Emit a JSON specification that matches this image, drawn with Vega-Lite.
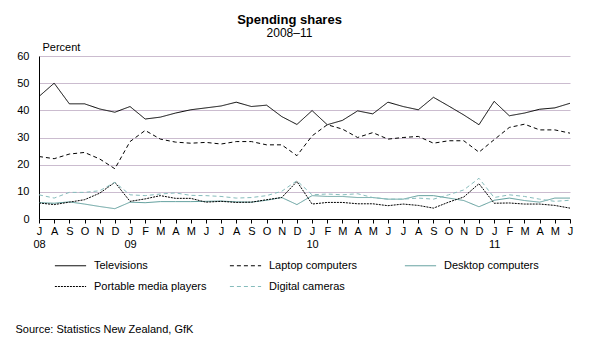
{
  "$schema": "https://vega.github.io/schema/vega-lite/v6.json",
  "width": 531,
  "height": 163,
  "autosize": {"type": "none"},
  "padding": {"left": 39, "top": 56, "right": 25, "bottom": 137},
  "background": "white",
  "title": {
    "text": "Spending shares",
    "subtitle": "2008–11",
    "anchor": "middle",
    "dx": -15,
    "fontSize": 13,
    "fontWeight": "bold",
    "font": "Liberation Sans",
    "subtitleFont": "Liberation Sans",
    "subtitleFontSize": 12,
    "subtitleColor": "black",
    "subtitlePadding": 1,
    "color": "black",
    "offset": 2
  },
  "data": {
    "values": [
      {"m": "2008-07", "Televisions": 45.1, "Laptop computers": 23.0, "Desktop computers": 6.0, "Portable media players": 5.9, "Digital cameras": 8.9},
      {"m": "2008-08", "Televisions": 50.0, "Laptop computers": 22.2, "Desktop computers": 5.8, "Portable media players": 5.3, "Digital cameras": 7.7},
      {"m": "2008-09", "Televisions": 42.4, "Laptop computers": 23.9, "Desktop computers": 6.3, "Portable media players": 6.2, "Digital cameras": 9.8},
      {"m": "2008-10", "Televisions": 42.4, "Laptop computers": 24.5, "Desktop computers": 5.5, "Portable media players": 7.1, "Digital cameras": 9.8},
      {"m": "2008-11", "Televisions": 40.5, "Laptop computers": 22.1, "Desktop computers": 4.6, "Portable media players": 9.5, "Digital cameras": 10.4},
      {"m": "2008-12", "Televisions": 39.3, "Laptop computers": 18.5, "Desktop computers": 3.8, "Portable media players": 13.5, "Digital cameras": 13.5},
      {"m": "2009-01", "Televisions": 41.4, "Laptop computers": 28.5, "Desktop computers": 6.2, "Portable media players": 6.5, "Digital cameras": 8.9},
      {"m": "2009-02", "Televisions": 36.8, "Laptop computers": 32.6, "Desktop computers": 6.0, "Portable media players": 7.4, "Digital cameras": 8.6},
      {"m": "2009-03", "Televisions": 37.5, "Laptop computers": 29.4, "Desktop computers": 6.4, "Portable media players": 8.6, "Digital cameras": 9.2},
      {"m": "2009-04", "Televisions": 39.0, "Laptop computers": 28.3, "Desktop computers": 6.4, "Portable media players": 7.6, "Digital cameras": 9.6},
      {"m": "2009-05", "Televisions": 40.2, "Laptop computers": 27.9, "Desktop computers": 6.4, "Portable media players": 7.6, "Digital cameras": 8.7},
      {"m": "2009-06", "Televisions": 40.9, "Laptop computers": 28.2, "Desktop computers": 6.5, "Portable media players": 6.2, "Digital cameras": 8.6},
      {"m": "2009-07", "Televisions": 41.6, "Laptop computers": 27.6, "Desktop computers": 6.6, "Portable media players": 6.5, "Digital cameras": 8.3},
      {"m": "2009-08", "Televisions": 43.0, "Laptop computers": 28.5, "Desktop computers": 6.3, "Portable media players": 6.1, "Digital cameras": 7.7},
      {"m": "2009-09", "Televisions": 41.4, "Laptop computers": 28.5, "Desktop computers": 6.2, "Portable media players": 6.2, "Digital cameras": 7.9},
      {"m": "2009-10", "Televisions": 41.9, "Laptop computers": 27.3, "Desktop computers": 6.9, "Portable media players": 7.1, "Digital cameras": 8.6},
      {"m": "2009-11", "Televisions": 37.7, "Laptop computers": 27.3, "Desktop computers": 7.9, "Portable media players": 7.9, "Digital cameras": 10.2},
      {"m": "2009-12", "Televisions": 34.8, "Laptop computers": 23.3, "Desktop computers": 5.3, "Portable media players": 13.8, "Digital cameras": 14.1},
      {"m": "2010-01", "Televisions": 39.9, "Laptop computers": 30.6, "Desktop computers": 8.6, "Portable media players": 5.5, "Digital cameras": 8.9},
      {"m": "2010-02", "Televisions": 34.7, "Laptop computers": 34.7, "Desktop computers": 8.3, "Portable media players": 6.1, "Digital cameras": 9.2},
      {"m": "2010-03", "Televisions": 36.3, "Laptop computers": 33.1, "Desktop computers": 8.3, "Portable media players": 6.1, "Digital cameras": 8.9},
      {"m": "2010-04", "Televisions": 39.8, "Laptop computers": 30.0, "Desktop computers": 7.9, "Portable media players": 5.6, "Digital cameras": 9.3},
      {"m": "2010-05", "Televisions": 38.7, "Laptop computers": 31.8, "Desktop computers": 7.9, "Portable media players": 5.6, "Digital cameras": 7.9},
      {"m": "2010-06", "Televisions": 43.0, "Laptop computers": 29.4, "Desktop computers": 7.3, "Portable media players": 4.9, "Digital cameras": 7.3},
      {"m": "2010-07", "Televisions": 41.4, "Laptop computers": 30.0, "Desktop computers": 7.3, "Portable media players": 5.5, "Digital cameras": 7.3},
      {"m": "2010-08", "Televisions": 40.2, "Laptop computers": 30.4, "Desktop computers": 8.6, "Portable media players": 5.0, "Digital cameras": 7.7},
      {"m": "2010-09", "Televisions": 44.8, "Laptop computers": 27.9, "Desktop computers": 8.6, "Portable media players": 4.0, "Digital cameras": 7.3},
      {"m": "2010-10", "Televisions": 41.6, "Laptop computers": 28.8, "Desktop computers": 7.7, "Portable media players": 6.2, "Digital cameras": 8.9},
      {"m": "2010-11", "Televisions": 38.3, "Laptop computers": 28.8, "Desktop computers": 6.8, "Portable media players": 8.1, "Digital cameras": 10.7},
      {"m": "2010-12", "Televisions": 34.7, "Laptop computers": 24.6, "Desktop computers": 4.5, "Portable media players": 13.0, "Digital cameras": 15.0},
      {"m": "2011-01", "Televisions": 43.3, "Laptop computers": 29.2, "Desktop computers": 6.9, "Portable media players": 5.8, "Digital cameras": 7.9},
      {"m": "2011-02", "Televisions": 38.0, "Laptop computers": 33.7, "Desktop computers": 7.7, "Portable media players": 5.9, "Digital cameras": 8.9},
      {"m": "2011-03", "Televisions": 39.0, "Laptop computers": 34.9, "Desktop computers": 6.8, "Portable media players": 5.5, "Digital cameras": 8.3},
      {"m": "2011-04", "Televisions": 40.4, "Laptop computers": 32.8, "Desktop computers": 6.2, "Portable media players": 5.5, "Digital cameras": 7.3},
      {"m": "2011-05", "Televisions": 40.9, "Laptop computers": 32.8, "Desktop computers": 7.7, "Portable media players": 5.0, "Digital cameras": 6.5},
      {"m": "2011-06", "Televisions": 42.6, "Laptop computers": 31.6, "Desktop computers": 7.7, "Portable media players": 4.0, "Digital cameras": 6.9}
    ]
  },
  "transform": [
    {"fold": ["Televisions", "Laptop computers", "Desktop computers", "Portable media players", "Digital cameras"], "as": ["series", "value"]}
  ],
  "mark": {"type": "line", "strokeWidth": 1, "clip": false},
  "encoding": {
    "x": {
      "field": "m",
      "type": "ordinal",
      "scale": {"type": "point", "padding": 0},
      "axis": {
        "title": "Source: Statistics New Zealand, GfK",
        "titleX": -24,
        "titleY": 110,
        "titleAlign": "left",
        "titleAnchor": null,
        "titleBaseline": "middle",
        "titleFontSize": 11,
        "titleFontWeight": "normal",
        "titleColor": "black",
        "labelAngle": 0,
        "labelAlign": "center",
        "labelBaseline": "top",
        "labelPadding": 2,
        "labelLineHeight": 13,
        "labelFontSize": 11,
        "labelColor": "black",
        "labelOverlap": false,
        "labelFlush": false,
        "labelExpr": "(substring(datum.value,5,7) == '01' || datum.value == '2008-07') ? [substring('JFMAMJJASOND', toNumber(substring(datum.value,5,7))-1, toNumber(substring(datum.value,5,7))), substring(datum.value,2,4)] : substring('JFMAMJJASOND', toNumber(substring(datum.value,5,7))-1, toNumber(substring(datum.value,5,7)))",
        "tickColor": "black",
        "tickSize": 4,
        "domainColor": "black",
        "grid": false
      }
    },
    "y": {
      "field": "value",
      "type": "quantitative",
      "scale": {"domain": [0, 60], "nice": false},
      "axis": {
        "values": [0, 10, 20, 30, 40, 50, 60],
        "title": "Percent",
        "titleAngle": 0,
        "titleAlign": "left",
        "titleAnchor": null,
        "titleBaseline": "middle",
        "titleX": 3,
        "titleY": -9,
        "titleFontSize": 11,
        "titleFontWeight": "normal",
        "titleColor": "black",
        "labelFontSize": 11,
        "labelColor": "black",
        "labelPadding": 10,
        "ticks": false,
        "domainColor": "black",
        "grid": true,
        "gridColor": "#cbbccf",
        "gridWidth": 1
      }
    },
    "color": {
      "field": "series",
      "type": "nominal",
      "scale": {
        "domain": ["Televisions", "Laptop computers", "Desktop computers", "Portable media players", "Digital cameras"],
        "range": ["#000000", "#000000", "#5f9e9c", "#000000", "#86bcbc"]
      },
      "legend": {
        "title": null,
        "orient": "none",
        "direction": "horizontal",
        "legendX": 25,
        "legendY": 203,
        "columns": 3,
        "gridAlign": "all",
        "columnPadding": 20,
        "rowPadding": 9,
        "padding": 0,
        "symbolType": "M-2.6,0L2.6,0",
        "symbolSize": 144,
        "symbolStrokeWidth": 1,
        "labelOffset": 17,
        "labelFontSize": 11,
        "labelColor": "black",
        "labelLimit": 300
      }
    },
    "strokeDash": {
      "field": "series",
      "type": "nominal",
      "scale": {
        "domain": ["Televisions", "Laptop computers", "Desktop computers", "Portable media players", "Digital cameras"],
        "range": [[1, 0], [4, 3], [1, 0], [2, 1], [4, 3]]
      },
      "legend": {
        "title": null,
        "orient": "none",
        "direction": "horizontal",
        "legendX": 25,
        "legendY": 203,
        "columns": 3,
        "gridAlign": "all",
        "columnPadding": 20,
        "rowPadding": 9,
        "padding": 0,
        "symbolType": "M-2.6,0L2.6,0",
        "symbolSize": 144,
        "symbolStrokeWidth": 1,
        "labelOffset": 17,
        "labelFontSize": 11,
        "labelColor": "black",
        "labelLimit": 300
      }
    }
  },
  "config": {
    "font": "Liberation Sans",
    "view": {"stroke": null},
    "axis": {"labelFont": "Liberation Sans", "titleFont": "Liberation Sans"},
    "legend": {"labelFont": "Liberation Sans"}
  }
}
